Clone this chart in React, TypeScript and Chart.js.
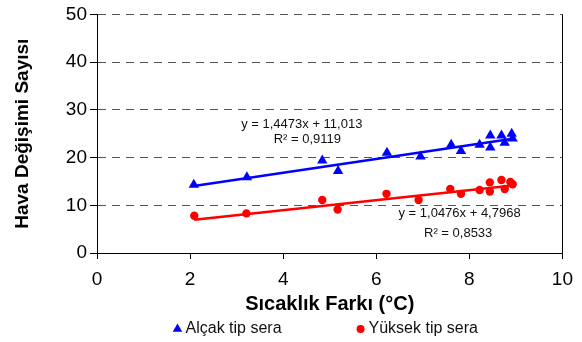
import React, { useEffect, useRef } from "react";
import { Chart, registerables } from "chart.js";

Chart.register(...registerables);

const lowX = [2.08, 3.22, 4.84, 5.18, 6.23, 6.95, 7.61, 7.82, 8.22, 8.45, 8.45, 8.69, 8.76, 8.91, 8.93];
const lowY = [14.3, 15.9, 19.4, 17.2, 21.0, 20.2, 22.7, 21.4, 22.7, 24.6, 22.1, 24.6, 23.1, 25.0, 24.0];
const highX = [2.09, 3.21, 4.84, 5.17, 6.22, 6.91, 7.59, 7.82, 8.22, 8.44, 8.44, 8.69, 8.76, 8.88, 8.93];
const highY = [7.8, 8.3, 11.1, 9.1, 12.4, 11.1, 13.4, 12.4, 13.2, 14.8, 12.9, 15.3, 13.4, 14.9, 14.4];

const seriesNames = ["Alçak tip sera", "Yüksek tip sera"];
const trendSlopes = [1.4473, 1.0476];
const trendIntercepts = [11.013, 4.7968];
const trendLabels = [
  ["y = 1,4473x + 11,013", "R² = 0,9119"],
  ["y = 1,0476x + 4,7968", "R² = 0,8533"],
];
// label anchor positions in data units (x, y) for each text line
const trendLabelX = [[4.4, 4.52], [7.79, 7.76]];
const trendLabelY = [[27.0, 23.8], [8.2, 4.0]];

const xTitle = "Sıcaklık Farkı (°C)";
const yTitle = "Hava Değişimi Sayısı";
const xMin = 0, xMax = 10, xStep = 2;
const yMin = 0, yMax = 50, yStep = 10;

const FONT = '"Liberation Sans", Arial, sans-serif';

function trend(xs: number[], slope: number, intercept: number) {
  const a = Math.min(...xs);
  const b = Math.max(...xs);
  return [
    { x: a, y: slope * a + intercept },
    { x: b, y: slope * b + intercept },
  ];
}

const overlay = {
  id: "overlay",
  afterDraw(chart: any) {
    const { ctx, chartArea: a, scales } = chart;
    ctx.save();
    // right frame line
    ctx.strokeStyle = "#000";
    ctx.lineWidth = 1;
    ctx.beginPath();
    ctx.moveTo(Math.round(a.right) + 0.5, a.top);
    ctx.lineTo(Math.round(a.right) + 0.5, a.bottom);
    ctx.stroke();

    // trendline equations
    ctx.font = `13px ${FONT}`;
    ctx.fillStyle = "#111";
    ctx.textAlign = "center";
    ctx.textBaseline = "middle";
    trendLabels.forEach((lines, i) => {
      lines.forEach((t, j) => {
        ctx.fillText(
          t,
          scales.x.getPixelForValue(trendLabelX[i][j]),
          scales.y.getPixelForValue(trendLabelY[i][j])
        );
      });
    });

    // legend
    ctx.font = `16px ${FONT}`;
    ctx.textAlign = "left";
    const cy = chart.height - 13;
    const gap = 79;
    const widths = seriesNames.map((n) => 8 + ctx.measureText(n).width);
    const total = widths.reduce((s, w) => s + w, 0) + gap;
    let x = (a.left + a.right) / 2 - total / 2 - 2;
    const colors = ["#0000FF", "#FF0000"];
    seriesNames.forEach((n, i) => {
      ctx.fillStyle = colors[i];
      ctx.beginPath();
      if (i === 0) {
        const r = 5.5;
        ctx.moveTo(x, cy - r);
        ctx.lineTo(x + r * 0.866, cy + r / 2);
        ctx.lineTo(x - r * 0.866, cy + r / 2);
        ctx.closePath();
      } else {
        ctx.arc(x, cy, 4, 0, Math.PI * 2);
      }
      ctx.fill();
      ctx.fillStyle = "#111";
      ctx.fillText(n, x + 8, cy);
      x += widths[i] + gap;
    });
    ctx.restore();
  },
};

export default function App() {
  const ref = useRef<HTMLCanvasElement>(null);
  useEffect(() => {
    document.body.style.margin = "0";
    const canvas = ref.current!;
    const chart = new Chart(canvas, {
      type: "scatter",
      data: {
        datasets: [
          {
            type: "line",
            label: "trend1",
            data: trend(lowX, trendSlopes[0], trendIntercepts[0]),
            borderColor: "#0000FF",
            borderWidth: 2.5,
            pointRadius: 0,
            order: 3,
          },
          {
            type: "line",
            label: "trend2",
            data: trend(highX, trendSlopes[1], trendIntercepts[1]),
            borderColor: "#FF0000",
            borderWidth: 2.5,
            pointRadius: 0,
            order: 4,
          },
          {
            label: seriesNames[0],
            data: lowX.map((x, i) => ({ x, y: lowY[i] })),
            pointStyle: "triangle",
            pointRadius: 6,
            backgroundColor: "#0000FF",
            borderColor: "#0000FF",
            borderWidth: 0,
            order: 1,
          },
          {
            label: seriesNames[1],
            data: highX.map((x, i) => ({ x, y: highY[i] })),
            pointStyle: "circle",
            pointRadius: 4.2,
            backgroundColor: "#FF0000",
            borderColor: "#FF0000",
            borderWidth: 0,
            order: 2,
          },
        ],
      },
      options: {
        animation: false,
        responsive: false,
        devicePixelRatio: 1,
        layout: { padding: { top: 14, right: 19, bottom: 24, left: 0 } },
        plugins: { legend: { display: false }, tooltip: { enabled: false } },
        scales: {
          x: {
            type: "linear",
            min: xMin,
            max: xMax,
            ticks: { stepSize: xStep, color: "#000", font: { family: FONT, size: 19 }, padding: 9 },
            grid: { drawOnChartArea: false, drawTicks: true, tickLength: 6, tickColor: "#000" },
            border: { display: true, color: "#000", width: 1 },
            title: {
              display: true,
              text: xTitle,
              color: "#000",
              font: { family: FONT, size: 20, weight: "bold" },
              padding: { top: 0, bottom: 2 },
            },
            afterFit: (s: any) => {
              s.height = 65;
            },
          },
          y: {
            type: "linear",
            min: yMin,
            max: yMax,
            ticks: { stepSize: yStep, color: "#000", font: { family: FONT, size: 19 }, padding: 3 },
            grid: {
              color: (c: any) => (c.tick && c.tick.value === 0 ? "rgba(0,0,0,0)" : "#555"),
              tickLength: 7,
              tickColor: "#000",
              tickBorderDash: [],
            },
            border: { display: true, color: "#000", width: 1, dash: [8, 6] },
            title: {
              display: true,
              text: yTitle,
              color: "#000",
              font: { family: FONT, size: 19, weight: "bold" },
              padding: { top: 11, bottom: 0 },
            },
            afterFit: (s: any) => {
              s.width = 97;
            },
          },
        },
      } as any,
      plugins: [overlay],
    });
    return () => chart.destroy();
  }, []);
  return <canvas ref={ref} width={582} height={342} style={{ display: "block", width: 582, height: 342 }} />;
}
